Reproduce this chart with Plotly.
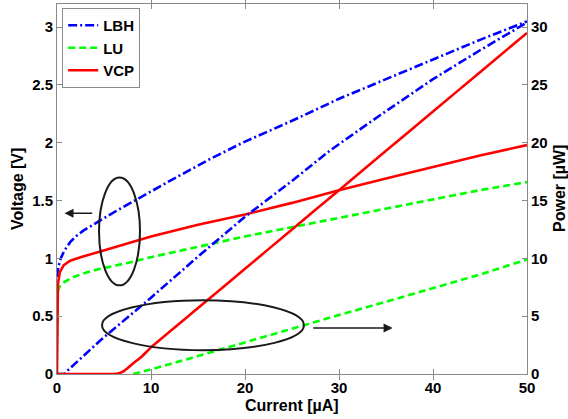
import plotly.graph_objects as go

# Voltage curves (left axis, V) versus current (µA)
lbh_v_x = [0, 0.15, 0.4, 0.8, 1.4, 2.0, 2.8, 4.0, 5.0, 6.5, 8.5, 10, 12, 16.3, 20, 25, 30, 35, 40, 45, 50]
lbh_v_y = [0.84, 0.93, 1.0, 1.07, 1.14, 1.19, 1.24, 1.3, 1.35, 1.42, 1.51, 1.58, 1.67, 1.86, 2.01, 2.19, 2.38, 2.55, 2.72, 2.89, 3.05]

lu_v_x = [0, 0.02, 0.1, 0.3, 0.7, 1.5, 2.8, 4.6, 7.5, 10, 15, 20, 25, 30, 35, 40, 45, 50]
lu_v_y = [0.33, 0.6, 0.72, 0.76, 0.79, 0.83, 0.87, 0.91, 0.96, 1.01, 1.10, 1.19, 1.27, 1.35, 1.43, 1.51, 1.59, 1.66]

vcp_v_x = [0, 0.02, 0.1, 0.3, 0.7, 1.4, 2.5, 4.6, 7.5, 10, 15, 20, 25, 30, 35, 40, 45, 50]
vcp_v_y = [0.0, 0.6, 0.78, 0.88, 0.94, 0.98, 1.01, 1.06, 1.13, 1.19, 1.29, 1.38, 1.48, 1.59, 1.69, 1.79, 1.89, 1.98]

# Power curves (right axis, µW) versus current (µA)
lbh_p_x = [0, 0.8, 1.2, 4.6, 10, 15.2, 20, 25, 29, 34.4, 40, 45, 50]
lbh_p_y = [0, 0, 0.35, 2.9, 6.6, 10.3, 13.6, 16.7, 19.3, 22.4, 25.5, 28.0, 30.4]

lu_p_x = [8.1, 10, 15, 20, 25, 30, 35, 40, 45, 50]
lu_p_y = [0, 0.4, 1.55, 2.75, 3.95, 5.1, 6.25, 7.4, 8.6, 9.9]

vcp_p_x = [0, 6.0, 6.5, 7.0, 7.5, 8.0, 9.0, 10, 15, 20, 25, 30, 35, 40, 45, 50]
vcp_p_y = [0, 0, 0.05, 0.2, 0.5, 0.85, 1.5, 2.3, 5.7, 9.1, 12.5, 15.9, 19.3, 22.7, 26.1, 29.5]

x_ticks = [0, 10, 20, 30, 40, 50]
v_ticks = [0, 0.5, 1, 1.5, 2, 2.5, 3]
p_ticks = [0, 5, 10, 15, 20, 25, 30]

BLUE = "#0000ff"
GREEN = "#00ff00"
RED = "#ff0000"
LBH_DASH = "9px,3px,2px,3px"
LU_DASH = "7px,4px"
LW = 2.6


def bold(values):
    return ["<b>%g</b>" % v for v in values]


fig = go.Figure()

fig.add_trace(go.Scatter(x=lbh_v_x, y=lbh_v_y, mode="lines", name="<b>LBH</b>",
                         line=dict(color=BLUE, width=LW, dash=LBH_DASH)))
fig.add_trace(go.Scatter(x=lu_v_x, y=lu_v_y, mode="lines", name="<b>LU</b>",
                         line=dict(color=GREEN, width=LW, dash=LU_DASH)))
fig.add_trace(go.Scatter(x=vcp_v_x, y=vcp_v_y, mode="lines", name="<b>VCP</b>",
                         line=dict(color=RED, width=LW)))

fig.add_trace(go.Scatter(x=lbh_p_x, y=lbh_p_y, mode="lines", yaxis="y2", showlegend=False,
                         line=dict(color=BLUE, width=LW, dash=LBH_DASH)))
fig.add_trace(go.Scatter(x=lu_p_x, y=lu_p_y, mode="lines", yaxis="y2", showlegend=False,
                         line=dict(color=GREEN, width=LW, dash=LU_DASH)))
fig.add_trace(go.Scatter(x=vcp_p_x, y=vcp_p_y, mode="lines", yaxis="y2", showlegend=False,
                         line=dict(color=RED, width=LW, shape="spline", smoothing=0.4)))

tick_font = dict(family="Liberation Sans, Arial", size=15, color="black")
title_font = dict(family="Liberation Sans, Arial", size=16, color="black")
axis_grey = "#8a8a8a"

fig.update_layout(
    width=568, height=419,
    margin=dict(l=57, r=41, t=4, b=45),
    paper_bgcolor="white", plot_bgcolor="white",
    showlegend=True,
    legend=dict(x=0.011, y=0.989, xanchor="left", yanchor="top",
                bgcolor="white", bordercolor=axis_grey, borderwidth=1,
                font=dict(family="Liberation Sans, Arial", size=15, color="black"),
                tracegroupgap=0, itemwidth=30),
    xaxis=dict(range=[0, 50], tickvals=x_ticks, ticktext=bold(x_ticks), ticks="inside", ticklen=5,
               tickcolor=axis_grey, showline=True, linecolor=axis_grey, linewidth=1,
               mirror="allticks", showgrid=False, zeroline=False, tickfont=tick_font),
    yaxis=dict(range=[0, 3.2], tickvals=v_ticks, ticktext=bold(v_ticks),
               ticks="inside", ticklen=5, tickcolor=axis_grey, showline=True,
               linecolor=axis_grey, linewidth=1, showgrid=False, zeroline=False,
               tickfont=tick_font),
    yaxis2=dict(range=[0, 32], tickvals=p_ticks, ticktext=bold(p_ticks), overlaying="y",
                side="right", ticks="inside", ticklen=5, tickcolor=axis_grey,
                showline=True, linecolor=axis_grey, linewidth=1, showgrid=False,
                zeroline=False, tickfont=tick_font),
)

# Axis titles
fig.add_annotation(text="<b>Voltage [V]</b>", xref="paper", yref="paper", x=0, y=0.5,
                   xanchor="center", yanchor="middle",
                   xshift=-40, textangle=-90, showarrow=False, font=title_font)
fig.add_annotation(text="<b>Power [µW]</b>", xref="paper", yref="paper", x=1, y=0.5,
                   xanchor="center", yanchor="middle",
                   xshift=32, textangle=-90, showarrow=False, font=title_font)
fig.add_annotation(text="<b>Current [µA]</b>", xref="paper", yref="paper", x=0.5, y=0,
                   xanchor="center", yanchor="middle",
                   yshift=-31, showarrow=False, font=title_font)

# Ellipses grouping the voltage and power curves
fig.add_shape(type="circle", xref="x", yref="y", x0=4.47, x1=8.83, y0=0.767, y1=1.699,
              line=dict(color="#1a1a1a", width=2))
fig.add_shape(type="circle", xref="x", yref="y", x0=4.79, x1=26.27, y0=0.206, y1=0.638,
              line=dict(color="#1a1a1a", width=2))

# Arrows pointing to the matching axis
fig.add_annotation(x=0.8, y=1.39, ax=3.9, ay=1.39, xref="x", yref="y", axref="x", ayref="y",
                   showarrow=True, arrowhead=2, arrowsize=1.2, arrowwidth=1.5,
                   arrowcolor="#1a1a1a", text="")
fig.add_annotation(x=35.7, y=0.397, ax=27.1, ay=0.397, xref="x", yref="y", axref="x", ayref="y",
                   showarrow=True, arrowhead=2, arrowsize=1.2, arrowwidth=1.5,
                   arrowcolor="#1a1a1a", text="")

fig.write_html("out.html")
